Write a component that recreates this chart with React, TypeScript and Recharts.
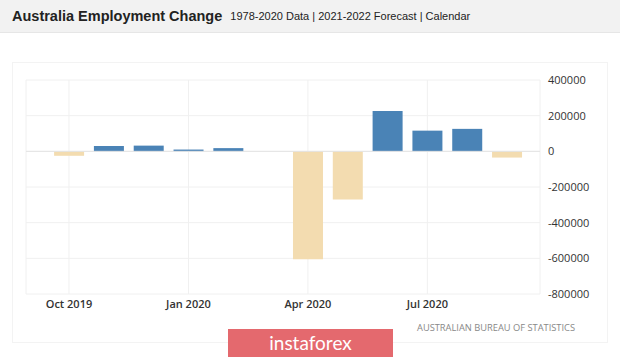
import { BarChart, Bar, XAxis, YAxis, CartesianGrid, ReferenceLine, Cell } from "recharts";

const MONTHS = [
  "Oct 2019", "Nov 2019", "Dec 2019", "Jan 2020", "Feb 2020", "Mar 2020",
  "Apr 2020", "May 2020", "Jun 2020", "Jul 2020", "Aug 2020", "Sep 2020",
];
const CHANGES = [-25000, 30000, 32000, 10000, 18000, 0, -605000, -270000, 226000, 116000, 126000, -35000];
const X_TICKS = [0, 3, 6, 9];
const Y_TICKS = [400000, 200000, 0, -200000, -400000, -600000, -800000];

const UP = "#4a83b6";
const DOWN = "#f3dcb0";
const FONT = "'Open Sans', 'DejaVu Sans', sans-serif";

export default function App() {
  const data = MONTHS.map((m, i) => ({ idx: i, month: m, value: CHANGES[i] }));

  return (
    <div style={{ position: "relative", width: 620, height: 358, background: "#fff", overflow: "hidden" }}>
      <style>{"body{margin:0}"}</style>
      <div
        style={{
          position: "absolute", left: 0, top: 0, width: 620, height: 32,
          background: "#f2f2f2", borderBottom: "1px solid #e6e6e6",
          fontFamily: "'Liberation Sans', Arial, sans-serif", color: "#222",
          display: "flex", alignItems: "center",
        }}
      >
        <span style={{ marginLeft: 12, fontSize: 14.5, fontWeight: 700 }}>Australia Employment Change</span>
        <span style={{ marginLeft: 8, fontSize: 11 }}>1978-2020 Data | 2021-2022 Forecast | Calendar</span>
      </div>
      <div
        style={{
          position: "absolute", left: 12, top: 62, width: 596, height: 281,
          border: "1px solid #f3f3f3", boxSizing: "border-box",
        }}
      />
      <div style={{ position: "absolute", left: 0, top: 0 }}>
        <BarChart width={620} height={358} data={data} margin={{ top: 80, right: 0, bottom: 0, left: 26 }}>
          <CartesianGrid stroke="#f0f0f0" vertical={true} horizontal={true} />
          <XAxis
            dataKey="idx"
            type="number"
            domain={[-1.08, 11.83]}
            allowDataOverflow
            ticks={X_TICKS}
            tickFormatter={(v: number) => MONTHS[v]}
            axisLine={false}
            tickLine={false}
            tickSize={0}
            tickMargin={6}
            tick={{ fontSize: 11, fill: "#333", fontWeight: 600, fontFamily: FONT }}
            height={64}
          />
          <YAxis
            orientation="right"
            type="number"
            domain={[-800000, 400000]}
            ticks={Y_TICKS}
            axisLine={false}
            tickLine={false}
            tickSize={0}
            tickMargin={8}
            width={80}
            tick={{ fontSize: 11, fill: "#333", fontFamily: FONT, textAnchor: "start" }}
          />
          <ReferenceLine y={0} stroke="#e4e4e4" />
          <Bar dataKey="value" barSize={30} isAnimationActive={false}>
            {data.map((d, i) => (
              <Cell key={i} fill={d.value >= 0 ? UP : DOWN} />
            ))}
          </Bar>
        </BarChart>
      </div>
      <div
        style={{
          position: "absolute", left: 417, top: 321, fontSize: 9.3, color: "#888",
          fontFamily: FONT,
        }}
      >
        AUSTRALIAN BUREAU OF STATISTICS
      </div>
      <div
        style={{
          position: "absolute", left: 228, top: 329, width: 165, height: 28,
          background: "#e4696e", color: "#fff", fontFamily: "Lato, 'Open Sans', sans-serif",
          fontSize: 19, display: "flex", alignItems: "center", justifyContent: "center",
          boxSizing: "border-box", paddingBottom: 2,
        }}
      >
        instaforex
      </div>
    </div>
  );
}
